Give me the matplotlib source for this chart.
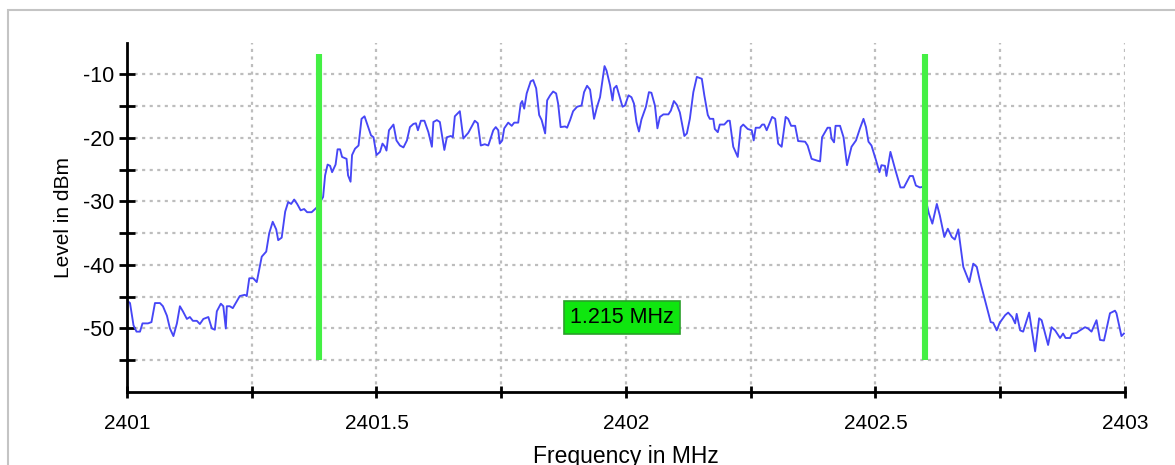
import numpy as np
import matplotlib
matplotlib.use('Agg')
import matplotlib.pyplot as plt
from matplotlib.patches import Rectangle

plt.rcParams['font.family'] = ['Liberation Sans', 'DejaVu Sans']

# spectrum trace (MHz, dBm)
freq = [
    2401.000, 2401.006, 2401.013, 2401.019, 2401.026, 2401.031, 2401.042, 2401.049,
    2401.056, 2401.066, 2401.072, 2401.080, 2401.086, 2401.093, 2401.100, 2401.106,
    2401.112, 2401.120, 2401.126, 2401.132, 2401.140, 2401.146, 2401.153, 2401.163,
    2401.170, 2401.176, 2401.180, 2401.188, 2401.193, 2401.198, 2401.200, 2401.206,
    2401.212, 2401.220, 2401.226, 2401.236, 2401.240, 2401.245, 2401.253, 2401.260,
    2401.270, 2401.279, 2401.285, 2401.292, 2401.299, 2401.303, 2401.310, 2401.317,
    2401.323, 2401.329, 2401.335, 2401.341, 2401.348, 2401.355, 2401.361, 2401.370,
    2401.377, 2401.381, 2401.393, 2401.397, 2401.402, 2401.407, 2401.411, 2401.418,
    2401.422, 2401.427, 2401.431, 2401.440, 2401.443, 2401.448, 2401.451, 2401.457,
    2401.464, 2401.470, 2401.476, 2401.482, 2401.489, 2401.494, 2401.500, 2401.507,
    2401.512, 2401.517, 2401.520, 2401.525, 2401.534, 2401.540, 2401.547, 2401.554,
    2401.561, 2401.567, 2401.574, 2401.579, 2401.583, 2401.589, 2401.596, 2401.604,
    2401.611, 2401.614, 2401.621, 2401.627, 2401.636, 2401.641, 2401.649, 2401.653,
    2401.657, 2401.667, 2401.674, 2401.684, 2401.697, 2401.703, 2401.709, 2401.717,
    2401.724, 2401.727, 2401.734, 2401.739, 2401.744, 2401.747, 2401.752, 2401.756,
    2401.764, 2401.771, 2401.776, 2401.784, 2401.789, 2401.792, 2401.796, 2401.801,
    2401.809, 2401.814, 2401.820, 2401.826, 2401.831, 2401.838, 2401.842, 2401.848,
    2401.854, 2401.860, 2401.864, 2401.869, 2401.878, 2401.882, 2401.888, 2401.894,
    2401.902, 2401.911, 2401.916, 2401.922, 2401.928, 2401.936, 2401.942, 2401.948,
    2401.957, 2401.961, 2401.968, 2401.973, 2401.976, 2401.981, 2401.988, 2401.993,
    2401.998, 2402.005, 2402.011, 2402.016, 2402.021, 2402.026, 2402.031, 2402.040,
    2402.046, 2402.051, 2402.058, 2402.063, 2402.068, 2402.075, 2402.085, 2402.090,
    2402.096, 2402.102, 2402.108, 2402.117, 2402.122, 2402.128, 2402.135, 2402.142,
    2402.152, 2402.157, 2402.164, 2402.168, 2402.175, 2402.178, 2402.184, 2402.188,
    2402.197, 2402.204, 2402.208, 2402.215, 2402.224, 2402.230, 2402.235, 2402.244,
    2402.252, 2402.256, 2402.260, 2402.268, 2402.273, 2402.277, 2402.282, 2402.293,
    2402.299, 2402.305, 2402.312, 2402.320, 2402.325, 2402.331, 2402.339, 2402.345,
    2402.359, 2402.364, 2402.372, 2402.384, 2402.389, 2402.393, 2402.404, 2402.409,
    2402.412, 2402.417, 2402.420, 2402.429, 2402.436, 2402.443, 2402.452, 2402.461,
    2402.469, 2402.476, 2402.481, 2402.486, 2402.492, 2402.501, 2402.508, 2402.512,
    2402.519, 2402.522, 2402.530, 2402.539, 2402.550, 2402.557, 2402.569, 2402.575,
    2402.581, 2402.589, 2402.595, 2402.607, 2402.614, 2402.623, 2402.629, 2402.638,
    2402.645, 2402.653, 2402.659, 2402.666, 2402.676, 2402.688, 2402.696, 2402.703,
    2402.709, 2402.716, 2402.723, 2402.731, 2402.736, 2402.743, 2402.749, 2402.760,
    2402.766, 2402.774, 2402.780, 2402.783, 2402.790, 2402.796, 2402.808, 2402.820,
    2402.828, 2402.833, 2402.846, 2402.853, 2402.860, 2402.870, 2402.876, 2402.881,
    2402.890, 2402.894, 2402.903, 2402.908, 2402.920, 2402.926, 2402.933, 2402.943,
    2402.950, 2402.958, 2402.970, 2402.980, 2402.983, 2402.993, 2402.998,
]
level = [
    -45.6, -46.0, -49.5, -50.5, -50.5, -49.2, -49.2, -49.0,
    -46.0, -46.0, -46.5, -48.0, -50.0, -51.2, -49.2, -46.5,
    -47.3, -48.5, -48.2, -48.8, -48.8, -49.3, -48.5, -48.2,
    -50.0, -50.2, -47.3, -46.1, -46.5, -50.0, -46.5, -46.5,
    -46.8, -45.7, -44.9, -44.7, -44.9, -42.1, -42.1, -42.7,
    -38.7, -37.9, -35.0, -33.2, -34.4, -36.1, -35.7, -31.6,
    -30.1, -30.4, -29.7, -30.4, -31.4, -31.2, -31.7, -31.7,
    -31.2, -30.9, -29.3, -25.9, -24.2, -24.4, -25.4, -24.2,
    -21.8, -21.8, -23.0, -23.3, -25.9, -26.9, -22.7, -21.7,
    -21.2, -17.0, -16.6, -18.0, -19.6, -19.9, -22.7, -22.2,
    -20.9, -21.4, -22.0, -18.8, -17.9, -20.4, -21.2, -21.5,
    -20.4, -18.3, -17.8, -17.7, -18.8, -17.3, -17.3, -19.1,
    -21.4, -17.5, -17.2, -17.5, -21.9, -19.9, -19.7, -19.9,
    -16.6, -15.8, -20.1, -19.2, -17.3, -17.7, -21.2, -21.0,
    -21.2, -20.5, -18.8, -18.3, -18.8, -20.9, -20.4, -18.5,
    -17.6, -18.1, -17.6, -17.6, -14.6, -14.2, -15.4, -13.0,
    -11.1, -10.9, -12.2, -16.4, -17.2, -19.3, -14.1, -13.3,
    -12.7, -13.0, -14.6, -18.3, -18.2, -18.4, -17.2, -15.8,
    -15.1, -14.9, -12.8, -11.8, -12.4, -17.0, -15.1, -13.6,
    -8.7, -9.4, -11.7, -14.1, -12.2, -11.8, -13.7, -15.1,
    -14.9, -13.3, -13.6, -14.6, -17.5, -19.0, -17.1, -15.1,
    -12.8, -12.9, -14.9, -18.5, -16.7, -16.3, -16.3, -15.7,
    -14.2, -14.8, -16.0, -19.7, -19.3, -17.0, -12.8, -10.4,
    -10.7, -13.3, -16.4, -17.0, -17.0, -18.6, -19.1, -17.9,
    -17.9, -17.3, -17.3, -21.4, -23.0, -18.3, -17.9, -18.6,
    -18.8, -20.4, -18.4, -18.4, -17.9, -17.9, -18.8, -16.7,
    -17.0, -20.9, -21.4, -16.7, -17.0, -18.1, -18.1, -20.5,
    -20.6, -21.2, -23.3, -23.6, -23.7, -19.9, -18.4, -18.4,
    -20.1, -20.7, -18.1, -18.1, -19.9, -24.3, -21.4, -20.4,
    -18.5, -17.0, -18.3, -20.6, -21.2, -23.5, -25.4, -24.3,
    -24.4, -26.0, -22.2, -24.8, -27.8, -27.8, -26.0, -26.0,
    -27.5, -27.8, -27.7, -31.9, -33.5, -30.4, -32.2, -35.6,
    -34.3, -35.6, -36.0, -34.4, -40.3, -42.7, -39.8, -40.3,
    -42.4, -44.5, -46.6, -49.0, -49.1, -50.3, -49.1, -47.9,
    -47.5, -48.2, -49.2, -47.7, -50.3, -50.5, -47.5, -53.6,
    -48.4, -48.7, -52.6, -49.8, -50.3, -51.5, -50.8, -51.5,
    -51.5, -50.8, -50.7, -50.4, -49.8, -50.0, -50.5, -48.7,
    -51.8, -51.9, -47.6, -47.2, -47.6, -51.2, -50.8,
]

marker_freqs = [2401.385, 2402.600]
marker_bottom = -55
marker_top = -6.75
bandwidth_text = '1.215 MHz'
bandwidth_level = -48.2

x_ticks = [2401, 2401.25, 2401.5, 2401.75, 2402, 2402.25, 2402.5, 2402.75, 2403]
x_labels = ['2401', '', '2401.5', '', '2402', '', '2402.5', '', '2403']
y_ticks = [-55, -50, -45, -40, -35, -30, -25, -20, -15, -10]
y_labels = ['', '-50', '', '-40', '', '-30', '', '-20', '', '-10']

fig = plt.figure(figsize=(11.75, 4.65), dpi=100)
ax = fig.add_axes([0.1081, 0.157, 0.8493, 0.7514])

# outer light gray frame of the widget
fig.patches.append(Rectangle((8 / 1175, -0.2), 1.2, 1.2 - 10 / 465,
                             transform=fig.transFigure, fill=False,
                             edgecolor='#c4c4c4', linewidth=1.5))

ax.plot(freq, level, color='#4646f6', linewidth=1.35, zorder=3)

ax.vlines(marker_freqs, marker_bottom, marker_top, color='#44f044',
          linewidth=4.4, zorder=4)

mid = (marker_freqs[0] + marker_freqs[1]) / 2
ax.text(mid, bandwidth_level, bandwidth_text, ha='center', va='center',
        fontsize=15.5, color='black', zorder=5,
        bbox=dict(boxstyle='square,pad=0.28', facecolor='#0fe60f',
                  edgecolor='#2aa02a', linewidth=1.2))

ax.set_xlim(2401, 2403)
ax.set_ylim(-60, -5)

ax.set_xticks(x_ticks)
ax.set_xticklabels(x_labels)
ax.set_yticks(y_ticks)
ax.set_yticklabels(y_labels)

ax.tick_params(axis='x', direction='inout', length=8, width=2, pad=12,
               labelsize=15, colors='black')
ax.tick_params(axis='y', direction='inout', length=12, width=2, pad=3,
               labelsize=15.5, colors='black')

ax.grid(True, color='#bdbdbd', linestyle=(0, (1.4, 2.0)), linewidth=1.6)
for ln in ax.get_xgridlines() + ax.get_ygridlines():
    ln.set_zorder(1)

for side in ['top', 'right']:
    ax.spines[side].set_visible(False)
for side in ['left', 'bottom']:
    ax.spines[side].set_linewidth(2)
    ax.spines[side].set_color('black')
    ax.spines[side].set_zorder(6)

ax.set_xlabel('Frequency in MHz', fontsize=16.5)
ax.set_ylabel('Level in dBm', fontsize=15)
ax.xaxis.set_label_coords(0.5, -0.153)
ax.yaxis.set_label_coords(-0.054, 0.5)

fig.savefig('out.png', dpi=100)
